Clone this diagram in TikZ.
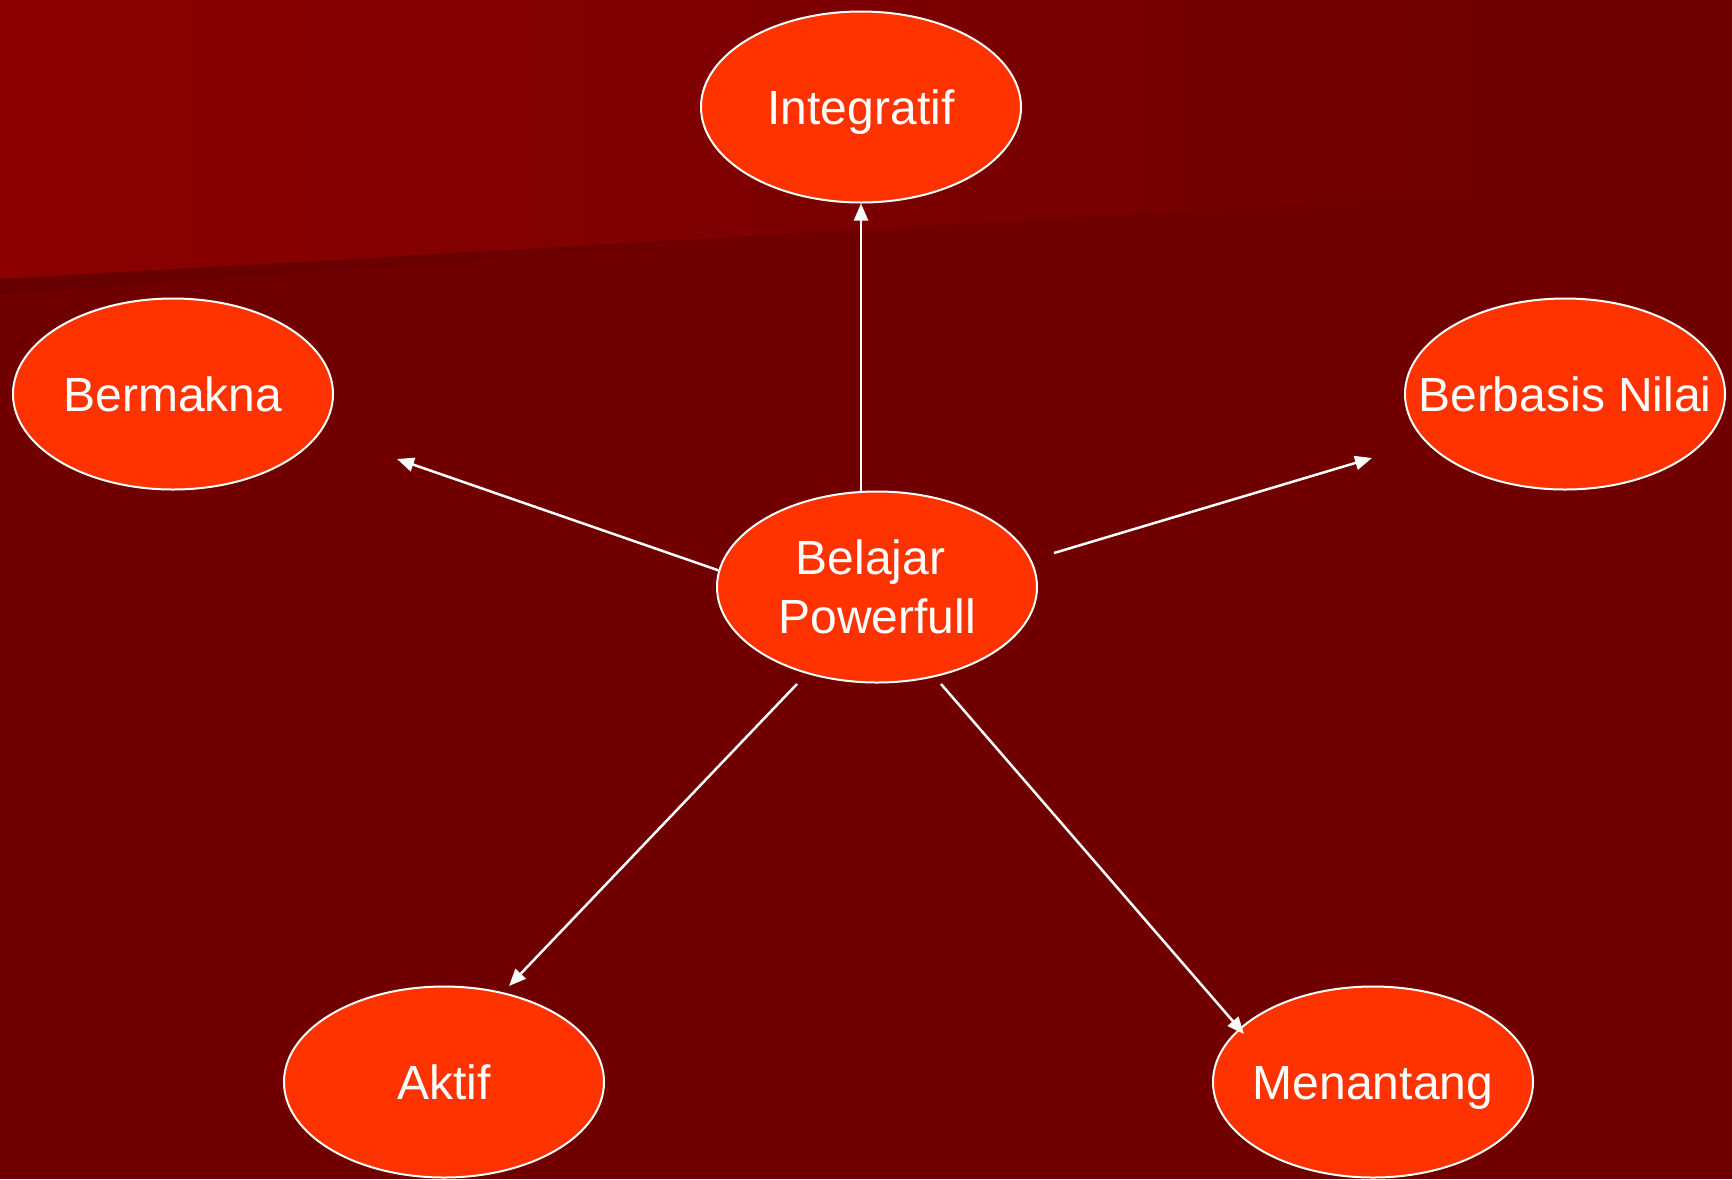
\documentclass[tikz,border=0pt]{standalone}
\usepackage{fontspec}
\setmainfont{Liberation Sans}
\usetikzlibrary{shapes.geometric,arrows.meta}
\definecolor{bgmain}{HTML}{700000}
\definecolor{bgtop}{HTML}{8B0000}
\definecolor{bgband}{HTML}{660000}
\definecolor{ovalfill}{HTML}{FF3300}
\newcommand{\zw}[1]{\makebox[0pt]{#1}}
\begin{document}
\begin{tikzpicture}[x=1pt,y=-1pt,
  ovalbase/.style={ellipse, draw=white, line width=2pt, fill=ovalfill, text=white,
    minimum width=320pt, minimum height=191pt, inner sep=0pt,
    font=\fontsize{48}{59}\selectfont, align=center},
  oval/.style={ovalbase, text height=34pt, text depth=0pt},
  link/.style={draw=white, line width=2.5pt, -{Triangle[length=17pt,width=14pt]}}]
\useasboundingbox (0,0) rectangle (1732,1179);
\fill[bgmain] (0,0) rectangle (1732,1179);
\shade[left color=bgtop, right color=bgmain] (0,0) -- (1500,0) -- (1500,193) -- (0,279) -- cycle;
\shade[left color=bgband, right color=bgmain] (0,279) -- (900,228) -- (900,231) -- (0,294) -- cycle;

\node[oval] (int) at (861,107) {\zw{Integratif}};
\node[ovalbase] (bel) at (877,587) {\zw{Belajar\hspace*{13pt}}\\\zw{Powerfull}};
\node[oval] (bmk) at (173,394) {\zw{Bermakna}};
\node[oval] (bnl) at (1565,394) {\zw{Berbasis Nilai}};
\node[oval] (akt) at (444,1082) {\zw{Aktif}};
\node[oval] (mnt) at (1373,1082) {\zw{Menantang}};

\coordinate (eBmk) at (397,459);
\coordinate (sBnl) at (1054,553);
\coordinate (eBnl) at (1372,458);
\coordinate (sAkt) at (797,684);
\coordinate (eAkt) at (509,986);
\coordinate (sMnt) at (941,684);
\coordinate (eMnt) at (1244,1034);

\draw[link] (int.south |- bel.north) -- (int.south);
\draw[link] (bel.174) -- (eBmk);
\draw[link] (sBnl) -- (eBnl);
\draw[link] (sAkt) -- (eAkt);
\draw[link] (sMnt) -- (eMnt);
\end{tikzpicture}
\end{document}
